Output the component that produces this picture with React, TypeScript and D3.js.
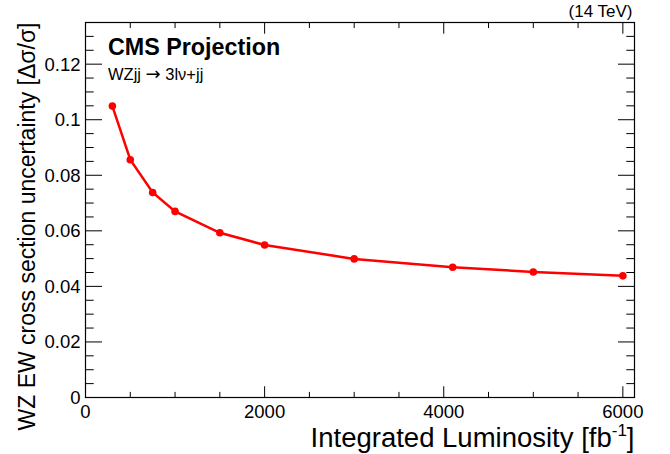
import React from "react";
import * as d3 from "d3";

const lumi = [300, 500, 750, 1000, 1500, 2000, 3000, 4100, 5000, 6000];
const uncertainty = [0.1049, 0.0856, 0.0738, 0.067, 0.0593, 0.0549, 0.0499, 0.0469, 0.0452, 0.0438];
const xTicks = [0, 2000, 4000, 6000];
const yTicks = [0, 0.02, 0.04, 0.06, 0.08, 0.1, 0.12];

const W = 670, H = 454;
const L = 85.5, R = 634.5, T = 22.5, B = 397.5;
const FONT = "'Liberation Sans', Arial, Helvetica, sans-serif";

export default function App() {
  const x = d3.scaleLinear().domain([0, 6130]).range([L, R]);
  const y = d3.scaleLinear().domain([0, 0.135]).range([B, T]);
  const xMinor = d3.range(0, 6130, 500);
  const yMinor = d3.range(0, 0.1351, 0.005);
  const line = d3.line<number>().x((d, i) => x(lumi[i])).y((d) => y(d));
  const xMaj = 11.2, xMin = 5.6, yMaj = 16.5, yMin = 8.2;
  const isMajorX = (v: number) => Math.abs(v % 2000) < 1e-6;
  const isMajorY = (v: number) => Math.abs(Math.round(v / 0.005) % 4) === 0;

  return (
    <svg width={W} height={H} style={{ position: "absolute", left: 0, top: 0, background: "#fff" }} fontFamily={FONT}>
      <rect x={0} y={0} width={W} height={H} fill="#fff" />
      {xMinor.map((v) => {
        const len = isMajorX(v) ? xMaj : xMin;
        return (
          <g key={"xt" + v} stroke="#000" strokeWidth={1}>
            <line x1={x(v)} x2={x(v)} y1={B} y2={B - len} />
            <line x1={x(v)} x2={x(v)} y1={T} y2={T + len} />
          </g>
        );
      })}
      {yMinor.map((v, i) => {
        const len = isMajorY(v) ? yMaj : yMin;
        return (
          <g key={"yt" + i} stroke="#000" strokeWidth={1}>
            <line x1={L} x2={L + len} y1={y(v)} y2={y(v)} />
            <line x1={R} x2={R - len} y1={y(v)} y2={y(v)} />
          </g>
        );
      })}
      <rect x={L} y={T} width={R - L} height={B - T} fill="none" stroke="#000" strokeWidth={1.2} />
      {xTicks.map((v) => (
        <text key={"xl" + v} x={x(v)} y={B + 20.5} fontSize={18.5} textAnchor="middle" fill="#000">
          {v}
        </text>
      ))}
      {yTicks.map((v) => (
        <text key={"yl" + v} x={L - 5} y={y(v) + 6.5} fontSize={18.5} textAnchor="end" fill="#000">
          {v === 0 ? "0" : String(+v.toFixed(2))}
        </text>
      ))}
      <text x={R} y={447} fontSize={27.5} textAnchor="end" fill="#000">
        Integrated Luminosity [fb
        <tspan dy={-11} fontSize={17}>-1</tspan>
        <tspan dy={11}>]</tspan>
      </text>
      <text transform={`translate(35,${T}) rotate(-90)`} fontSize={23} textAnchor="end" fill="#000">
        WZ EW cross section uncertainty [Δσ/σ]
      </text>
      <text x={R - 2} y={17} fontSize={17} textAnchor="end" fill="#000">(14 TeV)</text>
      <text x={108} y={55} fontSize={23.3} fontWeight="bold" fill="#000">CMS Projection</text>
      <text x={108} y={80} fontSize={16.5} fill="#000">
        WZjj <tspan fontFamily="'DejaVu Sans', sans-serif" fontSize={18}>→</tspan> 3lν+jj
      </text>
      <path d={line(uncertainty) || ""} fill="none" stroke="#ff0000" strokeWidth={2.5} />
      {uncertainty.map((v, i) => (
        <circle key={"p" + i} cx={x(lumi[i])} cy={y(v)} r={3.8} fill="#ff0000" />
      ))}
    </svg>
  );
}
